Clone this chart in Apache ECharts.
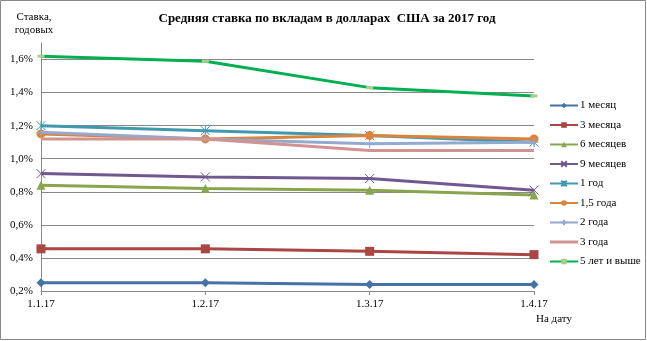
<!DOCTYPE html>
<html>
<head>
<meta charset="utf-8">
<script src="https://cdn.jsdelivr.net/npm/echarts@6/dist/echarts.min.js"></script>
<style>
  html, body { margin: 0; padding: 0; background: #fff; }
  #chart { width: 647px; height: 341px; }
</style>
</head>
<body>
<div id="chart"></div>
<script>
// data
var dates = ['1.1.17', '1.2.17', '1.3.17', '1.4.17'];
var names = ['1 месяц', '3 месяца', '6 месяцев', '9 месяцев', '1 год', '1,5 года', '2 года', '3 года', '5 лет и выше'];
var m1  = [0.25, 0.25, 0.24, 0.24];
var m3  = [0.455, 0.455, 0.44, 0.42];
var m6  = [0.84, 0.82, 0.81, 0.78];
var m9  = [0.91, 0.89, 0.88, 0.81];
var y1  = [1.20, 1.17, 1.14, 1.10];
var y15 = [1.15, 1.12, 1.14, 1.12];
var y2  = [1.16, 1.12, 1.09, 1.10];
var y3  = [1.12, 1.12, 1.05, 1.05];
var y5  = [1.62, 1.59, 1.43, 1.38];

var colors = ['#4572A7', '#AA4643', '#89A54E', '#71588F', '#4198AF', '#DB843D', '#93A9CF', '#D19392', '#00B050'];
var serif = '"Liberation Serif", "DejaVu Serif", serif';

var crossPath = 'path://M0,0 L10,10 M10,0 L0,10';
var starPath = 'path://M0,0 L10,10 M10,0 L0,10 M5,0 L5,10';
var plusPath = 'path://M5,0 L5,10 M0,5 L10,5';

var styles = [
  { data: m1,  symbol: 'diamond',  size: 9 },
  { data: m3,  symbol: 'rect',     size: 9 },
  { data: m6,  symbol: 'triangle', size: 9 },
  { data: m9,  symbol: crossPath,  size: 9, stroke: true },
  { data: y1,  symbol: starPath,   size: 9, stroke: true },
  { data: y15, symbol: 'circle',   size: 9 },
  { data: y2,  symbol: plusPath,   size: 9, stroke: true },
  { data: y3,  symbol: 'none',     size: 0 },
  { data: y5,  symbol: 'rect',     size: [7, 3], markerColor: '#A8D08D' }
];

var series = styles.map(function (s, i) {
  return {
    name: names[i],
    type: 'line',
    data: s.data,
    symbol: s.symbol,
    symbolSize: s.size,
    showSymbol: s.symbol !== 'none',
    lineStyle: { width: 3, color: colors[i] },
    itemStyle: {
      color: s.markerColor || colors[i],
      borderColor: s.markerColor || colors[i],
      borderWidth: s.stroke ? 1 : 0
    },
    z: 2 + i,
    animation: false
  };
});

var legendData = names.map(function (n, i) {
  if (styles[i].symbol === 'none') {
    return { name: n, icon: 'path://M0,4 L28,4 L28,7 L0,7 Z' };
  }
  return { name: n };
});

var chart = echarts.init(document.getElementById('chart'));
var option = {
  backgroundColor: '#fff',
  color: colors,
  title: {
    text: 'Средняя ставка по вкладам в долларах  США за 2017 год',
    left: 322,
    top: 7,
    textAlign: 'center',
    textStyle: { fontFamily: serif, fontSize: 13, fontWeight: 'bold', color: '#000' }
  },
  legend: {
    orient: 'vertical',
    left: 544,
    top: 95,
    itemWidth: 28,
    itemHeight: 7,
    itemGap: 8.5,
    data: legendData,
    textStyle: { fontFamily: serif, fontSize: 11, color: '#000', padding: [0, 0, 0, -3] }
  },
  grid: { left: 41, right: 113, top: 43, bottom: 50, containLabel: false },
  xAxis: {
    type: 'category',
    boundaryGap: false,
    data: dates,
    name: 'На дату',
    nameLocation: 'end',
    nameGap: 2,
    nameTextStyle: {
      fontFamily: serif, fontSize: 11, color: '#000',
      align: 'left', verticalAlign: 'top', padding: [23, 0, 0, 0]
    },
    axisLine: { lineStyle: { color: '#888', width: 1 } },
    axisTick: { show: true, length: 4, lineStyle: { color: '#888' } },
    axisLabel: { fontFamily: serif, fontSize: 11, color: '#000', margin: 8 }
  },
  yAxis: {
    type: 'value',
    min: 0.2,
    max: 1.7,
    interval: 0.1,
    name: 'Ставка,\nгодовых',
    nameLocation: 'end',
    nameGap: 6,
    nameTextStyle: {
      fontFamily: serif, fontSize: 11, color: '#000', lineHeight: 13,
      align: 'center', padding: [0, 14, 0, 0]
    },
    axisLine: { show: true, lineStyle: { color: '#888', width: 1 } },
    axisTick: { show: false },
    splitLine: { show: true, lineStyle: { color: ['#888', 'rgba(0,0,0,0)'], width: 1 } },
    axisLabel: {
      fontFamily: serif, fontSize: 11, color: '#000', margin: 8,
      formatter: function (v) {
        var t = Math.round(v * 10);
        if (t % 2 !== 0) return '';
        return (t / 10).toFixed(1).replace('.', ',') + '%';
      }
    }
  },
  graphic: [{
    type: 'rect',
    shape: { x: 0.5, y: 0.5, width: 645, height: 339 },
    style: { fill: 'none', stroke: '#888', lineWidth: 1 },
    silent: true
  }],
  series: series
};
chart.setOption(option);
</script>
</body>
</html>
